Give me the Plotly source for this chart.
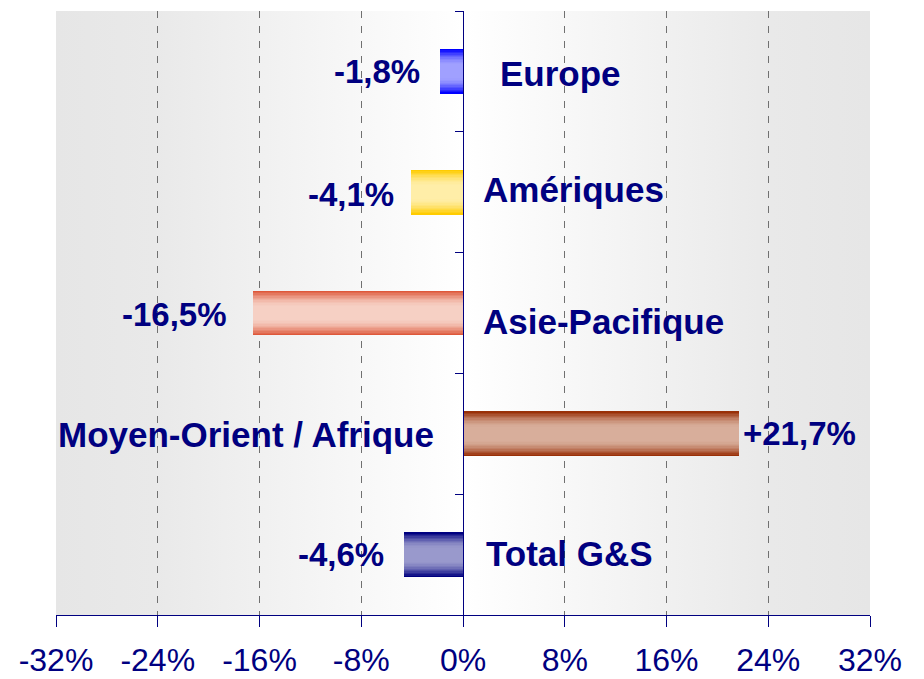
import base64
import math
import plotly.graph_objects as go

# ---- data ----
categories = ["Europe", "Amériques", "Asie-Pacifique", "Moyen-Orient / Afrique", "Total G&S"]
values = [-1.8, -4.1, -16.5, 21.7, -4.6]
value_labels = ["-1,8%", "-4,1%", "-16,5%", "+21,7%", "-4,6%"]
tick_values = [-32, -24, -16, -8, 0, 8, 16, 24, 32]
tick_labels = ["-32%", "-24%", "-16%", "-8%", "0%", "8%", "16%", "24%", "32%"]

# ---- styles ----
NAVY = "#000080"
edge_colors = [(0, 0, 255), (255, 204, 0), (222, 88, 58), (153, 48, 8), (0, 0, 128)]
center_colors = [(160, 160, 255), (255, 238, 168), (246, 208, 196), (216, 174, 155), (153, 153, 204)]
cat_shift = [35, 18, 18, -27, 21]
cat_yshift = [-2, 3, -8, -1, 1]
val_xshift = [-18, -15, -24, 2, -18]
val_yshift = [0, -2, -1, 0, 0]
BAR_W = 0.37
N_LAYERS = 16


def mix(a, b, t):
    return "rgb(%d,%d,%d)" % tuple(round(a[i] + (b[i] - a[i]) * t) for i in range(3))


fig = go.Figure()
for k in range(N_LAYERS):
    d = k / N_LAYERS
    t = math.sin(math.pi / 2 * min(1.0, d / 0.72))
    cols = [mix(e, c, t) for e, c in zip(edge_colors, center_colors)]
    fig.add_trace(go.Bar(
        x=values, y=categories, orientation="h",
        width=BAR_W * (1 - d),
        marker=dict(color=cols, line=dict(width=0)),
        hoverinfo="skip" if k else "x+y",
        showlegend=False,
    ))

# background gradient
svg = ('<svg xmlns="http://www.w3.org/2000/svg" width="100" height="100" viewBox="0 0 100 100" '
       'preserveAspectRatio="none"><defs><linearGradient id="g" x1="0" x2="1" y1="0" y2="0">'
       '<stop offset="0" stop-color="#e6e6e6"/><stop offset="0.12" stop-color="#e9e9e9"/>'
       '<stop offset="0.5" stop-color="#ffffff"/>'
       '<stop offset="0.88" stop-color="#e9e9e9"/><stop offset="1" stop-color="#e6e6e6"/>'
       '</linearGradient></defs>'
       '<rect width="100" height="100" fill="url(#g)"/></svg>')
src = "data:image/svg+xml;base64," + base64.b64encode(svg.encode()).decode()

annotations = []
bold = dict(family="Liberation Sans, Arial, sans-serif", size=33, color=NAVY, weight="bold")
for i, (c, v, lab) in enumerate(zip(categories, values, value_labels)):
    neg = v < 0
    annotations.append(dict(x=v, y=c, text=lab, showarrow=False,
                            xanchor="right" if neg else "left",
                            xshift=val_xshift[i], yshift=val_yshift[i], font=bold))
    annotations.append(dict(x=0, y=c, text=c, showarrow=False,
                            xanchor="left" if neg else "right",
                            xshift=cat_shift[i], yshift=cat_yshift[i],
                            font=dict(bold, size=35)))

fig.update_layout(
    width=924, height=679,
    margin=dict(l=56, r=54, t=11, b=64, autoexpand=False),
    paper_bgcolor="white",
    plot_bgcolor="rgba(0,0,0,0)",
    barmode="overlay",
    bargap=0,
    images=[dict(source=src, xref="paper", yref="paper", x=0, y=1, sizex=1, sizey=1,
                 xanchor="left", yanchor="top", sizing="stretch", layer="below")],
    annotations=annotations,
    xaxis=dict(
        range=[-32, 32], tickmode="array", tickvals=tick_values, ticktext=tick_labels,
        showgrid=True, gridcolor="#707070", gridwidth=1, griddash="7px,8px",
        zeroline=False, showline=True, linecolor=NAVY, linewidth=1,
        ticks="outside", ticklen=11, tickcolor=NAVY, tickwidth=1,
        tickfont=dict(family="Liberation Sans, Arial, sans-serif", size=32, color=NAVY),
        ticklabelstandoff=6,
        automargin=False,
        fixedrange=True,
    ),
    yaxis=dict(
        type="category", autorange="reversed",
        anchor="free", position=0.5,
        showticklabels=False, showgrid=False, zeroline=False,
        showline=True, linecolor=NAVY, linewidth=1,
        ticks="outside", tickson="boundaries", ticklen=8, tickcolor=NAVY,
        automargin=False,
        fixedrange=True,
    ),
)

fig.write_html("out.html", config={"displayModeBar": False},
               post_script="document.body.style.margin='0px';document.body.style.overflow='hidden';")
